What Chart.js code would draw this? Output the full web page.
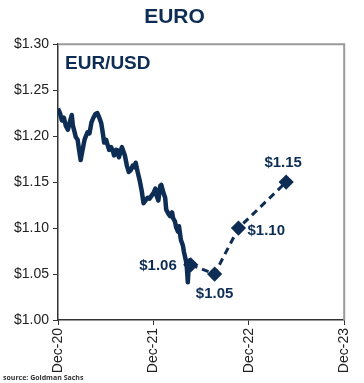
<!DOCTYPE html>
<html>
<head>
<meta charset="utf-8">
<script src="https://cdn.jsdelivr.net/npm/chart.js@4"></script>
<style>
  html, body { margin: 0; padding: 0; background: #fff; }
  #wrap { width: 364px; height: 383px; }
</style>
</head>
<body>
<div id="wrap"><canvas id="euroChart"></canvas></div>
<script>
// x values are months after Dec-20
const tickLabels = ['Dec-20', 'Dec-21', 'Dec-22', 'Dec-23'];

const historyMonths = [
    0.00, 0.25, 0.49, 0.74, 0.99, 1.24, 1.48, 1.73, 1.86, 2.10,
    2.23, 2.47, 2.60, 2.85, 3.09, 3.34, 3.46, 3.71, 3.96, 4.21,
    4.45, 4.70, 4.95, 5.20, 5.44, 5.57, 5.81, 6.06, 6.19, 6.43,
    6.68, 6.93, 7.05, 7.30, 7.42, 7.67, 7.92, 8.04, 8.29, 8.41,
    8.66, 8.91, 9.15, 9.40, 9.65, 9.77, 10.02, 10.27, 10.52, 10.76,
    11.01, 11.26, 11.51, 11.75, 12.00, 12.25, 12.37, 12.62, 12.87, 12.99,
    13.24, 13.48, 13.61, 13.86, 14.10, 14.35, 14.47, 14.72, 14.85, 15.09,
    15.22, 15.46, 15.71, 15.84, 16.08, 16.21, 16.33, 16.45, 16.58, 16.70
];
const historyRates = [
    1.230, 1.225, 1.217, 1.220, 1.211, 1.207, 1.215, 1.223, 1.212, 1.204,
    1.199, 1.196, 1.188, 1.174, 1.185, 1.196, 1.199, 1.204, 1.203, 1.215,
    1.220, 1.224, 1.225, 1.220, 1.214, 1.207, 1.193, 1.196, 1.192, 1.185,
    1.188, 1.183, 1.179, 1.185, 1.183, 1.177, 1.185, 1.188, 1.182, 1.179,
    1.168, 1.161, 1.163, 1.168, 1.166, 1.171, 1.161, 1.152, 1.141, 1.127,
    1.130, 1.133, 1.132, 1.135, 1.138, 1.143, 1.136, 1.130, 1.146, 1.147,
    1.139, 1.133, 1.120, 1.116, 1.113, 1.117, 1.111, 1.107, 1.101, 1.096,
    1.102, 1.087, 1.081, 1.074, 1.065, 1.057, 1.041, 1.060, 1.065, 1.060
];

const forecastMonths = [16.70, 19.70, 22.70, 28.70];
const forecastRates = [1.06, 1.05, 1.10, 1.15];
const forecastLabels = ['$1.06', '$1.05', '$1.10', '$1.15'];

const navy = '#0e2d55';

// forecast value labels + gray box on top/right + source note
const extrasPlugin = {
    id: 'extras',
    afterDatasetsDraw(chart) {
        const ctx = chart.ctx;
        const xs = chart.scales.x, ys = chart.scales.y;
        const area = chart.chartArea;

        ctx.save();
        ctx.strokeStyle = '#9a9a9a';
        ctx.lineWidth = 2;
        ctx.beginPath();
        ctx.moveTo(area.left, area.top);
        ctx.lineTo(area.right, area.top);
        ctx.lineTo(area.right, area.bottom);
        ctx.stroke();

        ctx.fillStyle = navy;
        ctx.font = 'bold 19px "Liberation Sans", Arial, sans-serif';
        ctx.textAlign = 'left';
        ctx.textBaseline = 'alphabetic';
        ctx.fillText('EUR/USD', area.left + 7, area.top + 25);

        const offsets = [
            { dx: -14, dy: 1, align: 'right' },
            { dx: 0, dy: 20, align: 'center' },
            { dx: 9, dy: 3, align: 'left' },
            { dx: -3, dy: -19, align: 'center' }
        ];
        ctx.font = 'bold 15px "Liberation Sans", Arial, sans-serif';
        ctx.textBaseline = 'middle';
        forecastLabels.forEach((label, i) => {
            const px = xs.getPixelForValue(forecastMonths[i]);
            const py = ys.getPixelForValue(forecastRates[i]);
            const o = offsets[i];
            ctx.textAlign = o.align;
            ctx.fillText(label, px + o.dx, py + o.dy);
        });

        ctx.fillStyle = '#333';
        ctx.font = 'bold 7px "Open Sans", sans-serif';
        ctx.textAlign = 'left';
        ctx.fillText('source: Goldman Sachs', 3, 378);
        ctx.restore();
    }
};

new Chart(document.getElementById('euroChart'), {
    type: 'line',
    data: {
        datasets: [{
            label: 'EUR/USD',
            data: historyMonths.map((m, i) => ({ x: m, y: historyRates[i] })),
            borderColor: navy,
            borderWidth: 4.5,
            borderJoinStyle: 'round',
            pointRadius: 0,
            tension: 0
        }, {
            label: 'Forecast',
            data: forecastMonths.map((m, i) => ({ x: m, y: forecastRates[i] })),
            borderColor: navy,
            borderWidth: 3,
            borderDash: [7, 5],
            pointStyle: 'rectRot',
            pointRadius: 5.5,
            pointBackgroundColor: navy,
            pointBorderColor: navy,
            tension: 0
        }]
    },
    options: {
        responsive: true,
        maintainAspectRatio: false,
        animation: false,
        layout: {
            padding: { left: 0, right: 15, top: 0, bottom: 0 }
        },
        scales: {
            x: {
                type: 'linear',
                min: 0,
                max: 36,
                border: { color: '#333', width: 1.5 },
                grid: { drawOnChartArea: false, tickLength: 5, color: '#333' },
                ticks: {
                    stepSize: 12,
                    minRotation: 90,
                    maxRotation: 90,
                    color: '#222',
                    font: { family: '"Liberation Sans", Arial, sans-serif', size: 14 },
                    callback: (v) => tickLabels[v / 12]
                },
                afterFit(scale) { scale.height = 63; }
            },
            y: {
                min: 1.0,
                max: 1.3,
                border: { color: '#333', width: 1.5 },
                grid: { drawOnChartArea: false, tickLength: 5, color: '#333' },
                ticks: {
                    stepSize: 0.05,
                    color: '#222',
                    padding: 4,
                    font: { family: '"Liberation Sans", Arial, sans-serif', size: 14 },
                    callback: (v) => '$' + v.toFixed(2)
                },
                afterFit(scale) { scale.width = 58; }
            }
        },
        plugins: {
            legend: { display: false },
            tooltip: { enabled: false },
            title: {
                display: true,
                text: 'EURO',
                color: navy,
                font: { family: '"Liberation Sans", Arial, sans-serif', size: 21, weight: 'bold', lineHeight: 1.2 },
                padding: { top: 5, bottom: 14 }
            }
        }
    },
    plugins: [extrasPlugin]
});
</script>
</body>
</html>
